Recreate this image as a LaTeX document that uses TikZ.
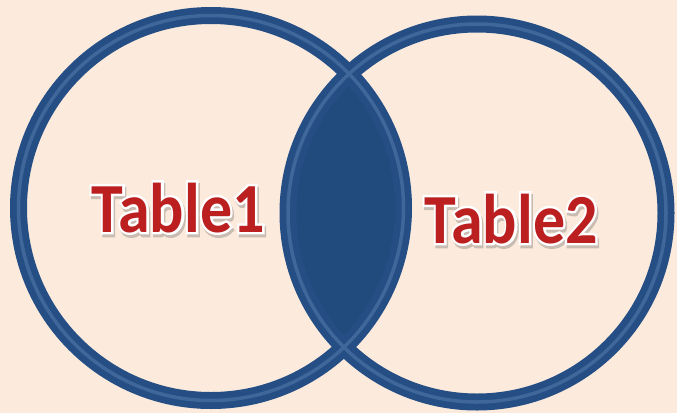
\documentclass[tikz,border=0pt]{standalone}
\usepackage{fontspec}
\setmainfont{Carlito}
\newfontfamily\glowfont[FakeBold=7]{Carlito Bold}
\definecolor{peach}{HTML}{FCEBDD}
\definecolor{ringblue}{HTML}{254E85}
\definecolor{ringlight}{HTML}{3F6799}
\definecolor{lensblue}{HTML}{214A7D}
\definecolor{labelred}{HTML}{BC1F1F}
\definecolor{shadowgray}{HTML}{C9BCB2}
\tikzset{
    ring/.style={draw=ringblue, line width=17pt},
    ringline/.style={draw=ringlight, line width=3.5pt},
    tablelabel/.style={anchor=base, inner sep=0pt, font=\bfseries\fontsize{64}{64}\selectfont, text=labelred},
    labelglow/.style={anchor=base, inner sep=0pt, font=\glowfont\fontsize{64}{64}\selectfont, text=white},
    labelshadow/.style={labelglow, text=shadowgray}
}
\begin{document}
\begin{tikzpicture}[x=1pt, y=-1pt]
                \fill[peach] (0,0) rectangle (677,413);
                \useasboundingbox (0,0) rectangle (677,413);

                \coordinate (c1) at (211,208);
                \coordinate (c2) at (477,213);

                \begin{scope}
                    \clip (c1) circle (192.5);
                    \fill[lensblue] (c2) circle (189);
                \end{scope}

                \draw[ring] (c1) circle (192.5);
                \draw[ring] (c2) circle (189);
                \draw[ringline] (c1) circle (192.5);
                \draw[ringline] (c2) circle (189);

                \node[labelshadow] (sh1) at (179.5,235) {\scalebox{1}[1.1]{Table1}};
                \node[labelglow] (glow1) at (178,232) {\scalebox{1}[1.1]{Table1}};
                \node[tablelabel] (lbl1) at (178,232) {\scalebox{1}[1.1]{Table1}};
                \node[labelshadow] (sh2) at (512.5,246) {\scalebox{1}[1.1]{Table2}};
                \node[labelglow] (glow2) at (511,243) {\scalebox{1}[1.1]{Table2}};
                \node[tablelabel] (lbl2) at (511,243) {\scalebox{1}[1.1]{Table2}};
            \end{tikzpicture}
\end{document}
